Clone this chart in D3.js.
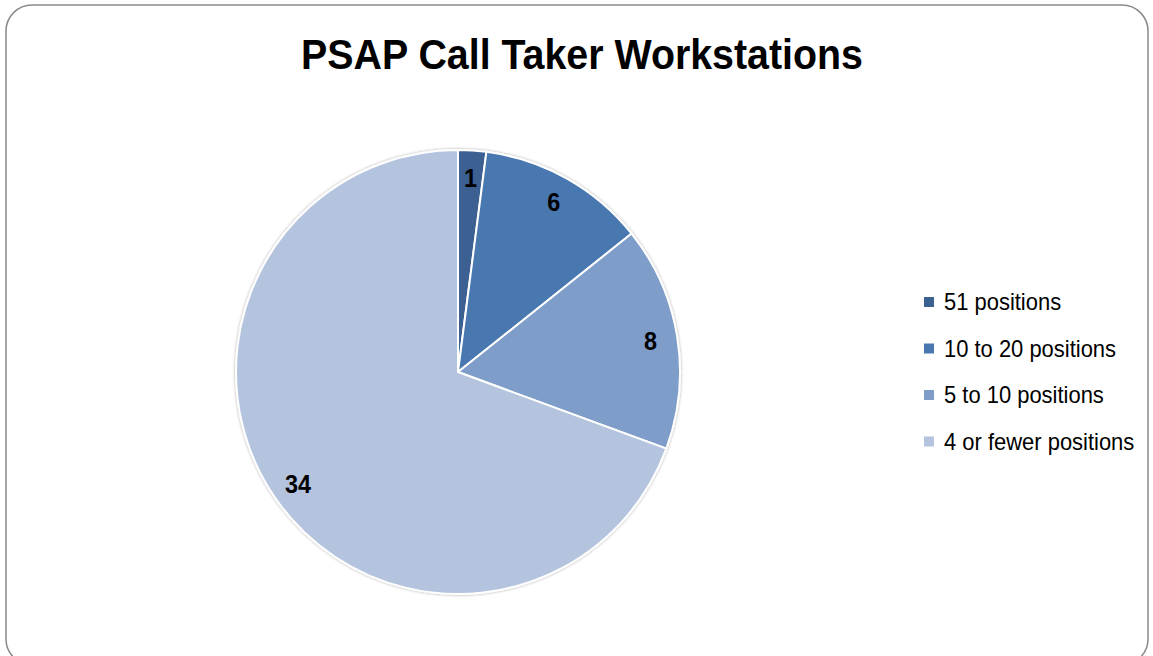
<!DOCTYPE html>
<html><head><meta charset="utf-8">
<script src="https://cdn.jsdelivr.net/npm/d3@7"></script>
<style>
html,body{margin:0;padding:0;background:#fff;}
svg{display:block;}
</style></head>
<body>
<svg id="chart" width="1153" height="656"></svg>
<script>
const categories = ["51 positions", "10 to 20 positions", "5 to 10 positions", "4 or fewer positions"];
const values = [1, 6, 8, 34];
const colors = ["#3B6191", "#4978B0", "#7F9DC9", "#B5C4DE"];
const title = "PSAP Call Taker Workstations";

const font = "'Liberation Sans',Arial,sans-serif";
const svg = d3.select("#chart");

// frame
svg.append("rect").attr("x", 6).attr("y", 5).attr("width", 1142).attr("height", 660)
  .attr("rx", 26).attr("ry", 26).attr("fill", "#fff").attr("stroke", "#8a8a8a").attr("stroke-width", 1.5);

svg.append("text").attr("transform", "translate(582,69) scale(0.915,1)").attr("text-anchor", "middle")
  .style("font-family", font).style("font-weight", "bold").style("font-size", "43px").attr("fill", "#000")
  .text(title);

const defs = svg.append("defs");
const f = defs.append("filter").attr("id", "sh").attr("x", "-10%").attr("y", "-10%").attr("width", "120%").attr("height", "120%");
f.append("feDropShadow").attr("dx", 0).attr("dy", 0).attr("stdDeviation", 1.5).attr("flood-color", "#000").attr("flood-opacity", 0.35);

const cx = 458, cy = 372, r = 222;
const pie = d3.pie().sort(null).value(d => d)(values);
const arc = d3.arc().innerRadius(0).outerRadius(r);
const labelArc = d3.arc().innerRadius(195).outerRadius(195);

const g = svg.append("g").attr("transform", `translate(${cx},${cy})`);
g.append("g").attr("filter", "url(#sh)").selectAll("path").data(pie).join("path")
  .attr("d", arc).attr("fill", (d, i) => colors[i]).attr("stroke", "#fff").attr("stroke-width", 2);

g.selectAll("text.lbl").data(pie).join("text").attr("class", "lbl")
  .attr("transform", d => `translate(${labelArc.centroid(d)}) scale(0.9,1)`)
  .attr("text-anchor", "middle").attr("dy", "0.36em")
  .style("font-family", font).style("font-weight", "bold").style("font-size", "26px").attr("fill", "#000")
  .text(d => d.data);

const lg = svg.append("g").attr("transform", "translate(924,302)");
const rows = lg.selectAll("g").data(categories).join("g").attr("transform", (d, i) => `translate(0,${i * 46.5})`);
rows.append("rect").attr("x", 0).attr("y", -5).attr("width", 10).attr("height", 10).attr("fill", (d, i) => colors[i]);
rows.append("text").attr("transform", "translate(20,0) scale(0.955,1)").attr("dy", "0.36em")
  .style("font-family", font).style("font-size", "23px").attr("fill", "#000").text(d => d);
</script>
</body></html>
